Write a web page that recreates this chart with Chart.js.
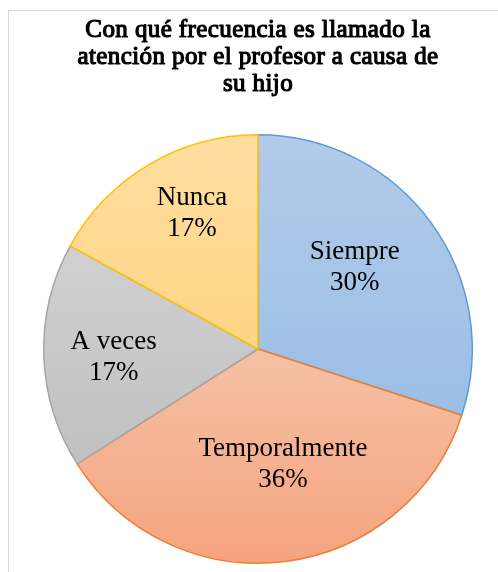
<!DOCTYPE html>
<html lang="es">
<head>
<meta charset="utf-8">
<title>Frecuencia de llamados de atención</title>
<script src="https://cdn.jsdelivr.net/npm/chart.js@4/dist/chart.umd.min.js"></script>
<style>
    html, body { margin: 0; padding: 0; background: #fff; overflow: hidden; }
    .frame {
        position: absolute; left: 8px; top: 10px;
        width: 700px; height: 700px;
        border: 1px solid #d9d9d9;
    }
    canvas { position: absolute; left: 0; top: 0; }
</style>
</head>
<body>
<div class="frame"></div>
<canvas id="pieChart" width="498" height="572"></canvas>
<script>
// datos del gráfico
const titleLines = ['Con qué frecuencia es llamado la', 'atención por el profesor a causa de', 'su hijo'];
const categories = ['Siempre', 'Temporalmente', 'A veces', 'Nunca'];
const values = [30, 36, 17, 17];

// colores (degradado vertical: arriba -> abajo) y bordes
const gradTop = ['#b2cbea', '#f5e0ce', '#d9d9d9', '#ffdea0'];
const gradBottom = ['#8eb8e4', '#f5a37e', '#b9b9b9', '#ffcc6c'];
const borderColors = ['#5b9bd5', '#ed7d31', '#a5a5a5', '#ffc000'];

// posición de etiquetas: [desvío de ángulo en grados, fracción del radio]
const labelPlace = [[-4, 0.59], [-5, 0.55], [-1.5, 0.675], [4.7, 0.705]];

const serif = 'Liberation Serif, Times New Roman, serif';
const total = values.reduce((s, v) => s + v, 0);

function sliceGradient(context) {
    const chart = context.chart;
    const area = chart.chartArea;
    if (!area) return gradTop[context.dataIndex];
    const g = chart.ctx.createLinearGradient(0, area.top, 0, area.bottom);
    g.addColorStop(0, gradTop[context.dataIndex]);
    g.addColorStop(1, gradBottom[context.dataIndex]);
    return g;
}

// título (la negrita serif no está instalada: se engruesa con trazo)
const boldTitle = {
    id: 'boldTitle',
    afterDraw(chart) {
        const ctx = chart.ctx;
        const area = chart.chartArea;
        const cx = (area.left + area.right) / 2;
        ctx.save();
        ctx.font = '25px ' + serif;
        ctx.letterSpacing = '0.4px';
        ctx.textAlign = 'center';
        ctx.textBaseline = 'alphabetic';
        ctx.fillStyle = '#000';
        ctx.strokeStyle = '#000';
        ctx.lineWidth = 1.2;
        ctx.lineJoin = 'round';
        titleLines.forEach((line, i) => {
            const y = 37 + i * 27;
            ctx.fillText(line, cx, y);
            ctx.strokeText(line, cx, y);
        });
        ctx.restore();
    }
};

// etiquetas dentro de cada porción
const sliceLabels = {
    id: 'sliceLabels',
    afterDatasetsDraw(chart) {
        const ctx = chart.ctx;
        const meta = chart.getDatasetMeta(0);
        ctx.save();
        ctx.fillStyle = '#000';
        ctx.font = '27px ' + serif;
        ctx.textAlign = 'center';
        ctx.textBaseline = 'middle';
        meta.data.forEach((arc, i) => {
            const p = arc.getProps(['x', 'y', 'startAngle', 'endAngle', 'outerRadius'], true);
            const mid = (p.startAngle + p.endAngle) / 2 + labelPlace[i][0] * Math.PI / 180;
            const r = p.outerRadius * labelPlace[i][1];
            const x = p.x + Math.cos(mid) * r;
            const y = p.y + Math.sin(mid) * r;
            const pct = Math.round(values[i] / total * 100) + '%';
            ctx.fillText(categories[i], x, y - 15.5);
            ctx.fillText(pct, x, y + 15.5);
        });
        ctx.restore();
    }
};

new Chart(document.getElementById('pieChart'), {
    type: 'pie',
    data: {
        labels: categories,
        datasets: [{
            data: values,
            backgroundColor: sliceGradient,
            borderColor: borderColors,
            borderWidth: 1.5
        }]
    },
    options: {
        responsive: false,
        animation: false,
        layout: {
            padding: { left: 43, right: 25, top: 134, bottom: 8 }
        },
        plugins: {
            legend: { display: false },
            tooltip: { enabled: false },
            title: { display: false }
        }
    },
    plugins: [sliceLabels, boldTitle]
});
</script>
</body>
</html>
